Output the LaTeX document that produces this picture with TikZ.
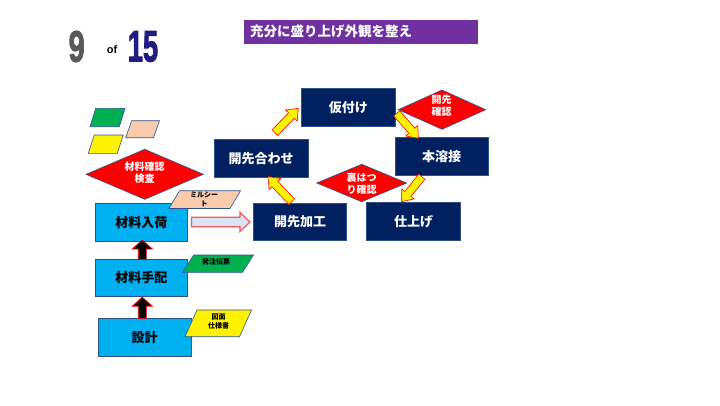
\documentclass[tikz,border=0pt]{standalone}
\usepackage{fontspec}
\setmainfont{Noto Sans CJK JP}
\newfontfamily\numfont{Liberation Sans}
\newfontface\heavynum{Liberation Sans Bold}[FakeBold=2.5]
\usetikzlibrary{calc}
\definecolor{navy}{HTML}{002060}
\definecolor{skyb}{HTML}{00B0F0}
\definecolor{bordc}{HTML}{2F528F}
\definecolor{purp}{HTML}{7030A0}
\definecolor{grn}{HTML}{00B050}
\definecolor{peach}{HTML}{F8CBAD}
\definecolor{lightb}{HTML}{DAE3F3}
\definecolor{numgrey}{HTML}{595959}
\definecolor{numblue}{RGB}{30,30,130}
\definecolor{harrowred}{RGB}{240,90,90}
\newcommand\myblockarrow[6]{% style, from, to, half shaft, half head, head length
  \coordinate (bC) at ($(#3)!#6!(#2)$);
  \draw[#1] ($(#2)!#4!90:(#3)$) -- ($(bC)!#4!90:(#3)$) -- ($(bC)!#5!90:(#3)$) -- (#3)
    -- ($(bC)!#5!-90:(#3)$) -- ($(bC)!#4!-90:(#3)$) -- ($(#2)!#4!-90:(#3)$) -- cycle;
}
\newcommand\mypgram[7]{% name, xl bottom, xr bottom, y bottom, y top, slant, fill
  \draw[pg, fill=#7] (#2,#4) -- (#3,#4) -- (#3+#6,#5) -- (#2+#6,#5) -- cycle;
  \coordinate (#1) at ({(#2+#3+#6)/2},{(#4+#5)/2});
}
\tikzset{
  bluebox/.style={draw=bordc, line width=0.8pt, fill=skyb, minimum width=92.7pt, minimum height=37.7pt, inner sep=0pt, text=black, font=\bfseries\fontsize{13}{15}\selectfont},
  navybox/.style={draw=bordc, line width=0.8pt, fill=navy, minimum width=93.5pt, minimum height=38pt, inner sep=0pt, text=white, font=\bfseries\fontsize{13}{15}\selectfont},
  dia/.style={draw=bordc, line width=0.6pt, fill=red},
  diatext/.style={text=white, font=\bfseries\fontsize{10}{12}\selectfont, align=center, inner sep=0pt},
  pg/.style={draw=bordc, line width=0.6pt},
  pgtext/.style={text=black, font=\bfseries\fontsize{7}{9}\selectfont, align=center, inner sep=0pt},
  yarrow/.style={fill=yellow, draw=red, line width=0.6pt, line join=miter},
  barrow/.style={fill=black, draw=red, line width=0.8pt, line join=miter},
  harrow/.style={fill=lightb, draw=harrowred, line width=1.2pt, line join=miter},
  bignum/.style={inner sep=0pt, font=\heavynum},
}
\begin{document}
\begin{tikzpicture}[x=1pt,y=-1pt]
\useasboundingbox (0,0) rectangle (720,405);
\fill[white] (0,0) rectangle (720,405);

% page counter
\node[bignum, text=numgrey] (nine) at (76.7,46.5) {\scalebox{0.66}[1]{\fontsize{44}{44}\selectfont 9}};
\node[text=black, inner sep=0pt, font=\numfont\bfseries\fontsize{11}{13}\selectfont] (of) at (112,50) {of};
\node[bignum, text=numblue] (fifteen) at (143,46.5) {\scalebox{0.62}[1]{\fontsize{44}{44}\selectfont 15}};

% title
\node[fill=purp, minimum width=234pt, minimum height=23.3pt, inner sep=0pt, anchor=north west] (titlebar) at (243.3,20) {};
\node[anchor=west, text=white, inner sep=0pt, font=\bfseries\fontsize{13.5}{15}\selectfont] (title) at ($(titlebar.west)+(6.5,0)$) {充分に盛り上げ外観を整え};

% legend parallelograms
\mypgram{lg}{90}{119.3}{126.7}{108.3}{5.7}{grn}
\mypgram{lp}{125.7}{153.5}{137.7}{120.7}{6}{peach}
\mypgram{ly}{88.3}{117.3}{153.3}{135}{6}{yellow}

% inspection diamond
\draw[dia] (86,174.3) -- (144.7,149.3) -- (203.3,174.3) -- (144.7,199.3) -- cycle;
\node[diatext] (kensa) at (144.5,173) {材料確認\\検査};

% left column
\node[bluebox] (nyuka) at (141.3,222.2) {材料入荷};
\node[bluebox] (tehai) at (141.3,278) {材料手配};
\node[bluebox, minimum height=38.4pt] (sekkei) at (144.7,337.5) {設計};

\coordinate (b1s) at (142.3,318.3);
\coordinate (b1e) at (142.3,297.2);
\coordinate (b2s) at (142.3,259.3);
\coordinate (b2e) at (142.3,240);
\myblockarrow{barrow}{b1s}{b1e}{4pt}{10pt}{9pt}
\myblockarrow{barrow}{b2s}{b2e}{4pt}{10pt}{9pt}

% document parallelograms
\mypgram{mill}{169}{230}{208.5}{190.7}{10.5}{peach}
\node[pgtext] (millt) at (204,199.5) {ミルシー\\ト};
\mypgram{hachu}{182.7}{242.5}{272.3}{255}{11}{grn}
\node[pgtext] (hachut) at (216,262) {発注伝票};
\mypgram{zumen}{185}{239.5}{336.7}{310}{12}{yellow}
\node[pgtext] (zument) at (218.5,321.5) {図面\\仕様書};

% hollow arrow
\coordinate (hs) at (191.5,222);
\coordinate (he) at (250,222);
\myblockarrow{harrow}{hs}{he}{4.7pt}{9.5pt}{10pt}

% process boxes
\node[navybox] (karitsuke) at (348.3,107.2) {仮付け};
\node[navybox, minimum height=38.4pt] (honyosetsu) at (441.7,156.5) {本溶接};
\node[navybox, minimum width=94.3pt] (awase) at (261.2,158.3) {開先合わせ};
\node[navybox, minimum height=37.4pt] (kakou) at (300,222) {開先加工};
\node[navybox, minimum width=94pt] (shiage) at (413.7,221.7) {仕上げ};

% red check diamonds
\draw[dia] (398.3,109.7) -- (442,90) -- (485.7,109.7) -- (442,129.3) -- cycle;
\node[diatext] (kaisaki) at (441.7,106) {開先\\確認};
\draw[dia] (316.7,183) -- (361.7,164.3) -- (406.7,183) -- (361.7,201.7) -- cycle;
\node[diatext] (urahatsuri) at (361.5,183.3) {裏はつ\\り確認};

% yellow flow arrows
\coordinate (y1s) at (291.7,201.7);
\coordinate (y1e) at (268,176.7);
\coordinate (y2s) at (275,132.7);
\coordinate (y2e) at (298.3,108.3);
\coordinate (y3s) at (396.7,113.3);
\coordinate (y3e) at (418.3,138.3);
\coordinate (y4s) at (421.7,176.7);
\coordinate (y4e) at (401.7,201.7);
\myblockarrow{yarrow}{y1s}{y1e}{4pt}{8pt}{10pt}
\myblockarrow{yarrow}{y2s}{y2e}{4pt}{8pt}{10pt}
\myblockarrow{yarrow}{y3s}{y3e}{4pt}{8pt}{10pt}
\myblockarrow{yarrow}{y4s}{y4e}{4pt}{8pt}{10pt}
\end{tikzpicture}
\end{document}
